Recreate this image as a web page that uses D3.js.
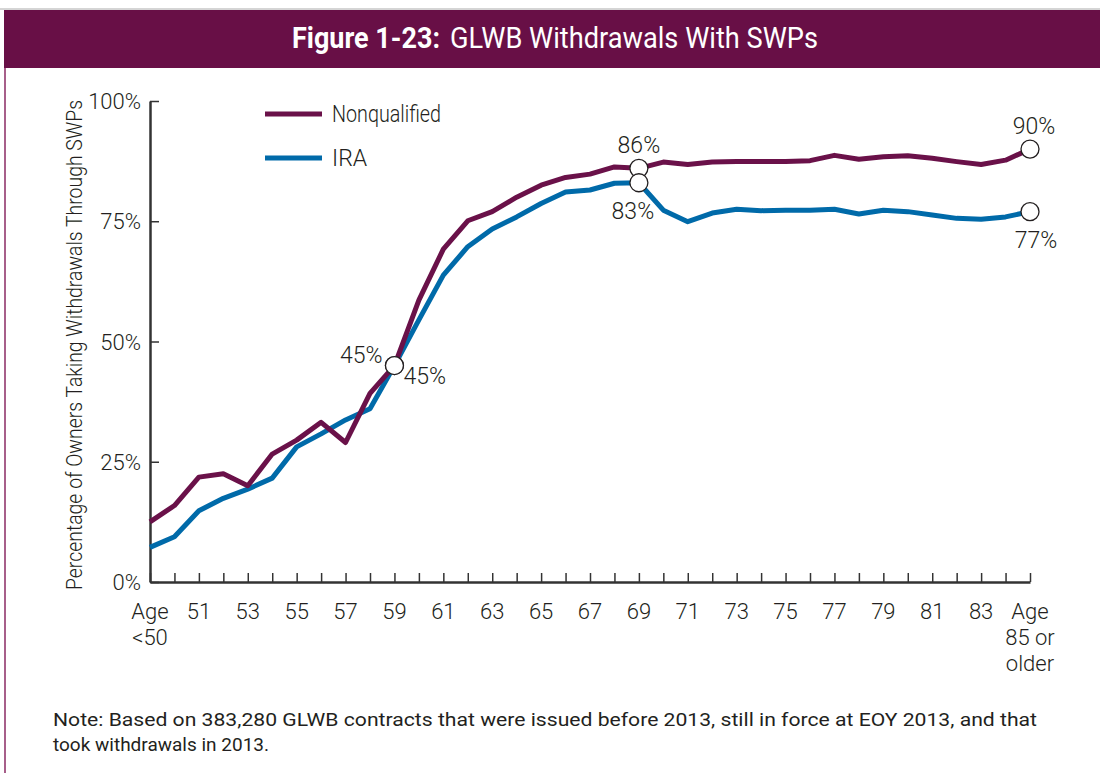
<!DOCTYPE html>
<html>
<head>
<meta charset="utf-8">
<script src="https://cdn.jsdelivr.net/npm/d3@7"></script>
<style>
body { margin: 0; background: #fff; }
text { font-family: Roboto, "Liberation Sans", sans-serif; font-weight: 300; fill: #231f20; }
</style>
</head>
<body>
<div class="chart"></div>
<script>
// ages on the x axis
var ages = ["<50"];
for (var a = 50; a <= 84; a++) ages.push(String(a));
ages.push("85+");

var nonqualified = [12.5, 15.9, 21.8, 22.5, 20.0, 26.6, 29.5, 33.2, 29.0, 39.2, 45,
  58.6, 69.2, 75.1, 77.0, 80.0, 82.5, 84.1, 84.8, 86.3, 86,
  87.3, 86.8, 87.3, 87.4, 87.4, 87.4, 87.6, 88.7, 87.9, 88.4, 88.6, 88.1, 87.4, 86.8, 87.7, 90];
var ira = [7.2, 9.4, 14.8, 17.4, 19.3, 21.6, 28.1, 30.8, 33.7, 36.0, 45,
  54.5, 63.8, 69.7, 73.4, 75.9, 78.7, 81.1, 81.5, 82.9, 83,
  77.3, 74.9, 76.7, 77.5, 77.2, 77.3, 77.3, 77.5, 76.5, 77.3, 77.0, 76.3, 75.6, 75.4, 75.9, 77];

var seriesNames = ["Nonqualified", "IRA"];
var seriesColors = ["#6a1149", "#006aa9"];

var yTicks = [0, 25, 50, 75, 100];
var xTickLabels = {"<50": ["Age", "<50"], "85+": ["Age", "85 or", "older"]};
for (var a = 51; a <= 83; a += 2) xTickLabels[String(a)] = [String(a)];

// labelled points: series, age, text, where
var callouts = [
  {s: 0, age: "59", text: "45%", dx: -12, dy: -3, anchor: "end"},
  {s: 1, age: "59", text: "45%", dx: 9, dy: 18, anchor: "start"},
  {s: 0, age: "69", text: "86%", dx: 0, dy: -15, anchor: "middle"},
  {s: 1, age: "69", text: "83%", dx: -6, dy: 36, anchor: "middle"},
  {s: 0, age: "85+", text: "90%", dx: 4, dy: -15, anchor: "middle"},
  {s: 1, age: "85+", text: "77%", dx: 6, dy: 36, anchor: "middle"}
];

var width = 1100, height = 773;
var svg = d3.select(".chart").append("svg")
    .attr("width", width)
    .attr("height", height);

// frame + title bar
svg.append("line").attr("x1", 0).attr("x2", width).attr("y1", 9).attr("y2", 9)
    .attr("stroke", "#aaa").attr("stroke-width", 1);
svg.append("rect").attr("x", 4).attr("y", 10).attr("width", width - 4).attr("height", 58)
    .attr("fill", "#680f46");
svg.append("line").attr("x1", 5).attr("x2", 5).attr("y1", 68).attr("y2", height)
    .attr("stroke", "#8a2a63").attr("stroke-width", 1.5);

// title, two pieces so the bold part keeps its own width
svg.append("text")
    .attr("x", 292).attr("y", 48)
    .attr("textLength", 148)
    .attr("lengthAdjust", "spacingAndGlyphs")
    .style("font-size", "29px").style("font-weight", "bold").style("fill", "#fff")
    .text("Figure 1-23:");
svg.append("text")
    .attr("x", 450).attr("y", 48)
    .attr("textLength", 368)
    .attr("lengthAdjust", "spacingAndGlyphs")
    .style("font-size", "29px").style("font-weight", 400).style("fill", "#fff")
    .text("GLWB Withdrawals With SWPs");

var x = d3.scalePoint().domain(ages).range([150, 1030]);
var y = d3.scaleLinear().domain([0, 100]).range([582, 101]);

var g = svg.append("g");

// y axis
var yAxis = g.append("g")
    .attr("transform", "translate(150,0)")
    .call(d3.axisLeft(y).tickValues(yTicks).tickSize(-9).tickSizeOuter(0).tickPadding(9)
      .tickFormat(function(d) { return d + "%"; }));
yAxis.select(".domain").attr("stroke", "#333").attr("stroke-width", 2.5);
yAxis.selectAll(".tick line").attr("stroke", "#333").attr("stroke-width", 1.5);
yAxis.selectAll(".tick text").style("font-size", "22px").attr("dy", "0.35em")
    .style("font-family", "Roboto, sans-serif").style("fill", "#231f20");

// x axis
var xAxis = g.append("g")
    .attr("transform", "translate(0,582)")
    .call(d3.axisBottom(x).tickSize(-9).tickSizeOuter(0).tickFormat(""));
xAxis.select(".domain").attr("stroke", "#333").attr("stroke-width", 2.5);
xAxis.selectAll(".tick line").attr("stroke", "#333").attr("stroke-width", 1.5);

var xl = g.selectAll(".xlabel")
    .data(ages.filter(function(d) { return xTickLabels[d]; }))
    .enter().append("text")
      .attr("class", "xlabel")
      .attr("text-anchor", "middle")
      .attr("y", 619)
      .style("font-size", "22px");
xl.each(function(d) {
  var t = d3.select(this);
  xTickLabels[d].forEach(function(line, i) {
    t.append("tspan").attr("x", x(d)).attr("dy", i ? 26 : 0).text(line);
  });
});

// y axis title
svg.append("text")
    .attr("transform", "translate(82,345) rotate(-90)")
    .attr("text-anchor", "middle")
    .attr("textLength", 490)
    .attr("lengthAdjust", "spacingAndGlyphs")
    .style("font-size", "22px")
    .text("Percentage of Owners Taking Withdrawals Through SWPs");

// lines
var line = d3.line()
    .x(function(d, i) { return x(ages[i]); })
    .y(function(d) { return y(d); });

var allSeries = [nonqualified, ira];
// draw IRA first so nonqualified sits on top
[1, 0].forEach(function(s) {
  g.append("path")
      .datum(allSeries[s])
      .attr("fill", "none")
      .attr("stroke", seriesColors[s])
      .attr("stroke-width", 5)
      .attr("stroke-linejoin", "round")
      .attr("d", line);
});

// legend
seriesNames.forEach(function(name, i) {
  var ly = 114 + i * 44;
  svg.append("line").attr("x1", 265).attr("x2", 322).attr("y1", ly).attr("y2", ly)
      .attr("stroke", seriesColors[i]).attr("stroke-width", 5);
  var t = svg.append("text").attr("x", 332).attr("y", ly).attr("dy", "0.35em")
      .style("font-size", "23px").text(name);
  if (i === 0) t.attr("textLength", 109).attr("lengthAdjust", "spacingAndGlyphs");
});

// callout markers and labels
callouts.forEach(function(c) {
  var i = ages.indexOf(c.age);
  var cx = x(c.age), cy = y(allSeries[c.s][i]);
  g.append("circle").attr("cx", cx).attr("cy", cy).attr("r", 9)
      .attr("fill", "#fff").attr("stroke", "#231f20").attr("stroke-width", 1.3);
  g.append("text").attr("x", cx + c.dx).attr("y", cy + c.dy)
      .attr("text-anchor", c.anchor)
      .style("font-size", "23px")
      .text(c.text);
});

// note
var note = svg.append("text").attr("x", 53).attr("y", 726)
    .style("font-size", "19px").style("font-weight", 400);
note.append("tspan").attr("x", 53)
    .attr("textLength", 984).attr("lengthAdjust", "spacingAndGlyphs")
    .text("Note: Based on 383,280 GLWB contracts that were issued before 2013, still in force at EOY 2013, and that");
note.append("tspan").attr("x", 53).attr("dy", 25).text("took withdrawals in 2013.");
</script>
</body>
</html>
